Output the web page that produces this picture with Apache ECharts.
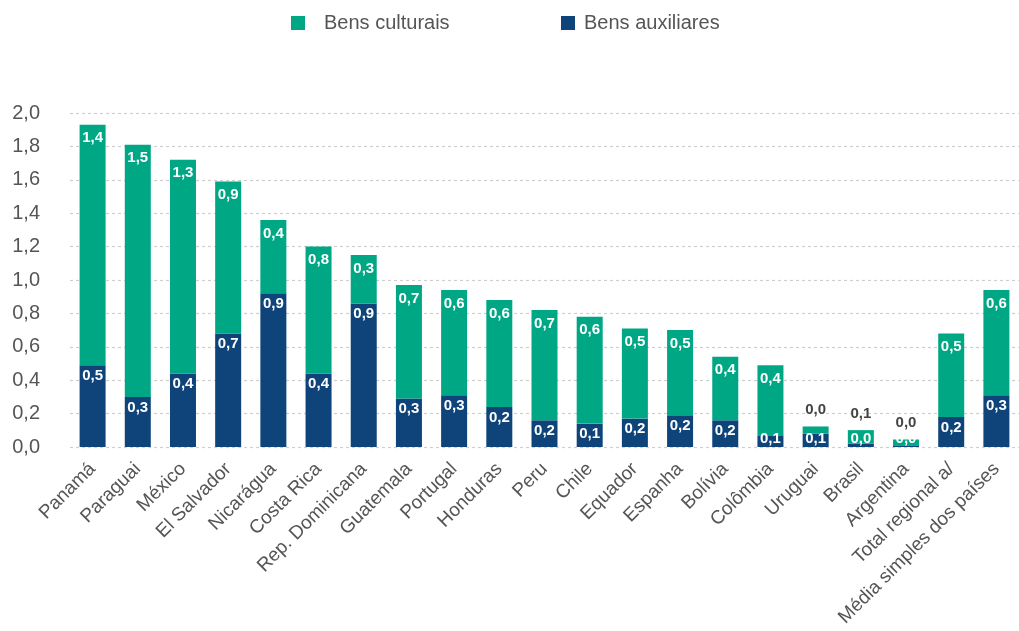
<!DOCTYPE html>
<html>
<head>
<meta charset="utf-8">
<script src="https://cdn.jsdelivr.net/npm/echarts@6/dist/echarts.min.js"></script>
<style>
html,body{margin:0;padding:0;background:#fff;}
#chart{width:1019px;height:631px;}
</style>
</head>
<body>
<div id="chart"></div>
<script>
const categories = ['Panamá','Paraguai','México','El Salvador','Nicarágua','Costa Rica','Rep. Dominicana','Guatemala','Portugal','Honduras','Peru','Chile','Equador','Espanha','Bolívia','Colômbia','Uruguai','Brasil','Argentina','Total regional a/','Média simples dos países'];
const bensAuxiliares = [0.49,0.30,0.44,0.68,0.92,0.44,0.86,0.29,0.31,0.24,0.16,0.14,0.17,0.19,0.16,0.07,0.08,0.02,0.01,0.18,0.31];
const bensCulturais = [1.44,1.51,1.28,0.91,0.44,0.76,0.29,0.68,0.63,0.64,0.66,0.64,0.54,0.51,0.38,0.42,0.043,0.081,0.035,0.50,0.63];
const yTicks = [0,0.2,0.4,0.6,0.8,1.0,1.2,1.4,1.6,1.8,2.0];

const GREEN = '#00a784';
const BLUE = '#0e4479';
const fmt = v => v.toFixed(1).replace('.', ',');

const chart = echarts.init(document.getElementById('chart'), null, {renderer:'canvas'});

const labelBase = {show:true, color:'#fff', fontSize:15, fontWeight:'bold', fontFamily:'Liberation Sans, Arial, sans-serif', formatter: p => fmt(p.value)};

const auxData = bensAuxiliares.map(v => v < 0.1
  ? {value:v, label:{position:'insideBottom', distance:1}}
  : {value:v});
const culData = bensCulturais.map(v => v < 0.1
  ? {value:v, label:{position:'top', distance:9, color:'#444'}}
  : {value:v});

chart.setOption({
  animation:false,
  backgroundColor:'#fff',
  legend:[{
    left:286, top:8, itemWidth:14, itemHeight:14, icon:'rect',
    data:['Bens culturais'],
    textStyle:{fontSize:20, color:'#555', fontFamily:'Liberation Sans, Arial, sans-serif', padding:[0,0,0,14]}
  },{
    left:556, top:8, itemWidth:14, itemHeight:14, icon:'rect',
    data:['Bens auxiliares'],
    textStyle:{fontSize:20, color:'#555', fontFamily:'Liberation Sans, Arial, sans-serif', padding:[0,0,0,4]}
  }],
  grid:{left:70, top:113, width:960, bottom:184, containLabel:false},
  xAxis:{
    type:'category', data:categories,
    axisLine:{show:false}, axisTick:{show:false},
    axisLabel:{rotate:45, interval:0, fontSize:19, color:'#555', margin:19, fontFamily:'Liberation Sans, Arial, sans-serif'}
  },
  yAxis:{
    type:'value', min:0, max:2, interval:0.2,
    axisLine:{show:false}, axisTick:{show:false},
    axisLabel:{fontSize:20, color:'#555', margin:30, fontFamily:'Liberation Sans, Arial, sans-serif',
      formatter: v => { const t = yTicks.find(x => Math.abs(x - v) < 1e-9); return fmt(t === undefined ? v : t); }},
    splitLine:{lineStyle:{color:'#cfcfcf', width:1.2, type:[3,3]}}
  },
  series:[{
    name:'Bens auxiliares', type:'bar', stack:'total', barWidth:26,
    itemStyle:{color:BLUE},
    label:Object.assign({}, labelBase, {position:'insideTop', distance:3}),
    data:auxData
  },{
    name:'Bens culturais', type:'bar', stack:'total', barWidth:26,
    itemStyle:{color:GREEN},
    label:Object.assign({}, labelBase, {position:'insideTop', distance:6}),
    data:culData
  }]
});
</script>
</body>
</html>
